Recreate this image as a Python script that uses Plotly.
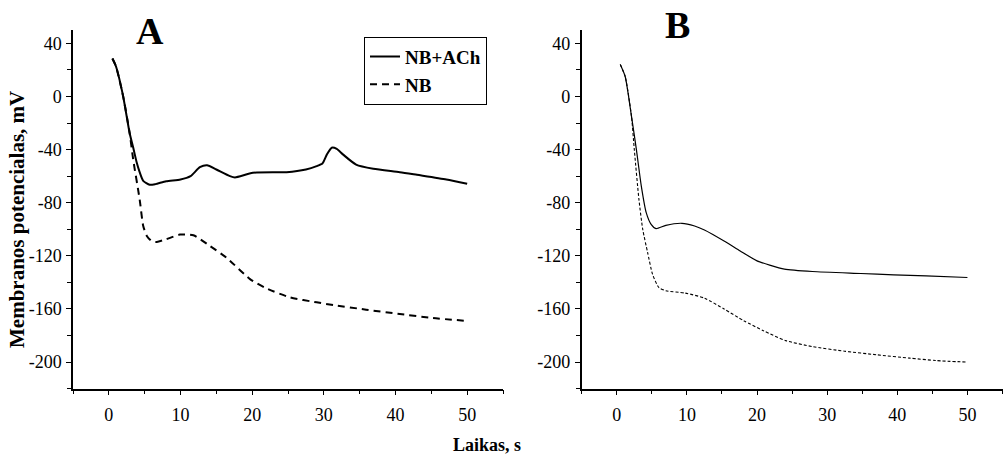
import plotly.graph_objects as go

# Panel A: membrane potential vs time (s)
a_ach_t = [0.5, 1.0, 2.0, 2.9, 3.4, 3.9, 4.3, 4.8, 5.7, 6.5, 8.0, 10.0, 11.4, 12.7, 13.7,
           15.0, 16.9, 17.6, 20.1, 24.8, 27.5, 29.0, 29.8, 30.4, 31.1, 31.8, 32.7, 34.5, 36.9,
           40.6, 43.0, 47.1, 50.0]
a_ach_v = [28.5, 22.5, 0.0, -27.5, -38.5, -50.0, -57.0, -63.5, -66.5, -66.0, -63.8, -62.5,
           -60.0, -53.3, -51.8, -55.0, -60.0, -61.0, -57.5, -57.0, -55.0, -52.5, -50.5, -44.0,
           -38.6, -39.5, -43.8, -51.3, -54.5, -57.0, -59.0, -62.5, -65.8]

a_nb_t = [0.5, 1.0, 2.0, 2.9, 3.4, 4.3, 4.8, 5.3, 6.0, 6.7, 8.0, 9.9, 11.8, 14.1, 16.4,
          19.7, 22.0, 25.3, 29.0, 31.3, 35.9, 40.6, 45.2, 50.0]
a_nb_v = [28.5, 22.5, 0.0, -27.5, -47.5, -77.5, -97.5, -105.0, -109.0, -109.5, -107.5, -104.0,
          -104.5, -112.5, -121.3, -137.5, -144.5, -151.3, -155.0, -157.0, -160.5, -163.8,
          -166.8, -169.0]

# Panel B
b_ach_t = [0.5, 1.2, 2.1, 2.8, 3.5, 4.2, 4.9, 5.6, 7.0, 9.3, 11.1, 12.5, 15.3, 17.6, 20.0,
           21.8, 23.9, 27.9, 34.8, 39.5, 44.1, 50.0]
b_ach_v = [24.0, 15.0, -15.0, -40.0, -67.5, -87.5, -96.3, -99.5, -97.0, -95.5, -97.5, -100.5,
           -108.8, -116.3, -123.8, -127.0, -130.0, -131.8, -133.3, -134.3, -135.0, -136.3]

b_nb_t = [0.5, 1.2, 2.1, 2.5, 3.16, 3.7, 4.4, 5.1, 6.0, 7.0, 9.75, 12.5, 15.3, 18.1, 20.9,
          24.1, 27.9, 32.5, 37.1, 41.8, 45.5, 50.0]
b_nb_v = [24.0, 15.0, -15.0, -40.0, -77.5, -100.0, -117.5, -133.8, -143.8, -146.3, -148.0,
          -151.8, -160.0, -168.8, -176.3, -183.8, -188.3, -191.8, -194.5, -197.0, -198.8, -200.0]

x_ticks = [0, 10, 20, 30, 40, 50]
x_labels = ["0", "10", "20", "30", "40", "50"]
y_ticks = [-200, -160, -120, -80, -40, 0, 40]
y_labels = ["-200", "-160", "-120", "-80", "-40", "0", "40"]

SERIF = "Liberation Serif, Times New Roman, serif"
W, H = 1003, 457

fig = go.Figure()

fig.add_trace(go.Scatter(x=a_ach_t, y=a_ach_v, name="NB+ACh", mode="lines",
                         line=dict(color="black", width=2, shape="spline", smoothing=0.6),
                         xaxis="x", yaxis="y"))
fig.add_trace(go.Scatter(x=a_nb_t, y=a_nb_v, name="NB", mode="lines",
                         line=dict(color="black", width=2, dash="7px,5px", shape="spline", smoothing=0.6),
                         xaxis="x", yaxis="y"))
fig.add_trace(go.Scatter(x=b_ach_t, y=b_ach_v, name="NB+ACh", mode="lines", showlegend=False,
                         line=dict(color="black", width=1.2, shape="spline", smoothing=0.6),
                         xaxis="x2", yaxis="y2"))
fig.add_trace(go.Scatter(x=b_nb_t, y=b_nb_v, name="NB", mode="lines", showlegend=False,
                         line=dict(color="black", width=1.1, dash="3px,2px", shape="spline", smoothing=0.6),
                         xaxis="x2", yaxis="y2"))

y_dom = [1 - 388.7 / H, 1 - 30 / H]


def xaxis(dom, anchor):
    return dict(domain=dom, anchor=anchor, range=[-5, 55], tickvals=x_ticks, ticktext=x_labels,
                showline=True, linecolor="black", linewidth=1.5, ticks="outside",
                ticklen=5, tickwidth=1.3, tickcolor="black", showgrid=False, zeroline=False,
                minor=dict(ticks="outside", ticklen=4, tickwidth=1.3, tickcolor="black",
                           dtick=5, tick0=0, showgrid=False),
                tickfont=dict(family=SERIF, size=18, color="black"), ticklabelstandoff=4,
                fixedrange=True)


def yaxis(anchor):
    return dict(domain=y_dom, anchor=anchor, range=[-220, 50], tickvals=y_ticks, ticktext=y_labels,
                showline=True, linecolor="black", linewidth=1.5, ticks="outside",
                ticklen=5, tickwidth=1.3, tickcolor="black", showgrid=False, zeroline=False,
                minor=dict(ticks="outside", ticklen=4, tickwidth=1.3, tickcolor="black",
                           dtick=20, tick0=0, showgrid=False),
                tickfont=dict(family=SERIF, size=18, color="black"), ticklabelstandoff=1,
                fixedrange=True)


fig.update_layout(
    width=W, height=H,
    margin=dict(l=0, r=0, t=0, b=0),
    paper_bgcolor="white", plot_bgcolor="white",
    xaxis=xaxis([73 / W, 503 / W], "y"),
    yaxis=yaxis("x"),
    xaxis2=xaxis([581.7 / W, 1002.5 / W], "y2"),
    yaxis2=yaxis("x2"),
    showlegend=True,
    legend=dict(x=364 / W, y=1 - 36.7 / H, xanchor="left", yanchor="top",
                bgcolor="white", bordercolor="black", borderwidth=1,
                font=dict(family=SERIF, size=19, color="black", weight="bold"),
                itemwidth=30, tracegroupgap=0),
    annotations=[
        dict(text="<b>A</b>", x=150 / W, y=1 - 31 / H, xref="paper", yref="paper",
             xanchor="center", yanchor="middle",
             showarrow=False, font=dict(family=SERIF, size=38, color="black")),
        dict(text="<b>B</b>", x=677 / W, y=1 - 25 / H, xref="paper", yref="paper",
             xanchor="center", yanchor="middle",
             showarrow=False, font=dict(family=SERIF, size=38, color="black")),
        dict(text="<b>Membranos potencialas, mV</b>", x=17 / W, y=1 - 220 / H,
             xref="paper", yref="paper", showarrow=False, textangle=-90,
             xanchor="center", yanchor="middle",
             font=dict(family=SERIF, size=21, color="black")),
        dict(text="<b>Laikas, s</b>", x=487 / W, y=1 - 445 / H, xref="paper", yref="paper",
             xanchor="center", yanchor="middle",
             showarrow=False, font=dict(family=SERIF, size=18, color="black")),
    ],
)

fig.write_html("out.html", config={"displayModeBar": False})
